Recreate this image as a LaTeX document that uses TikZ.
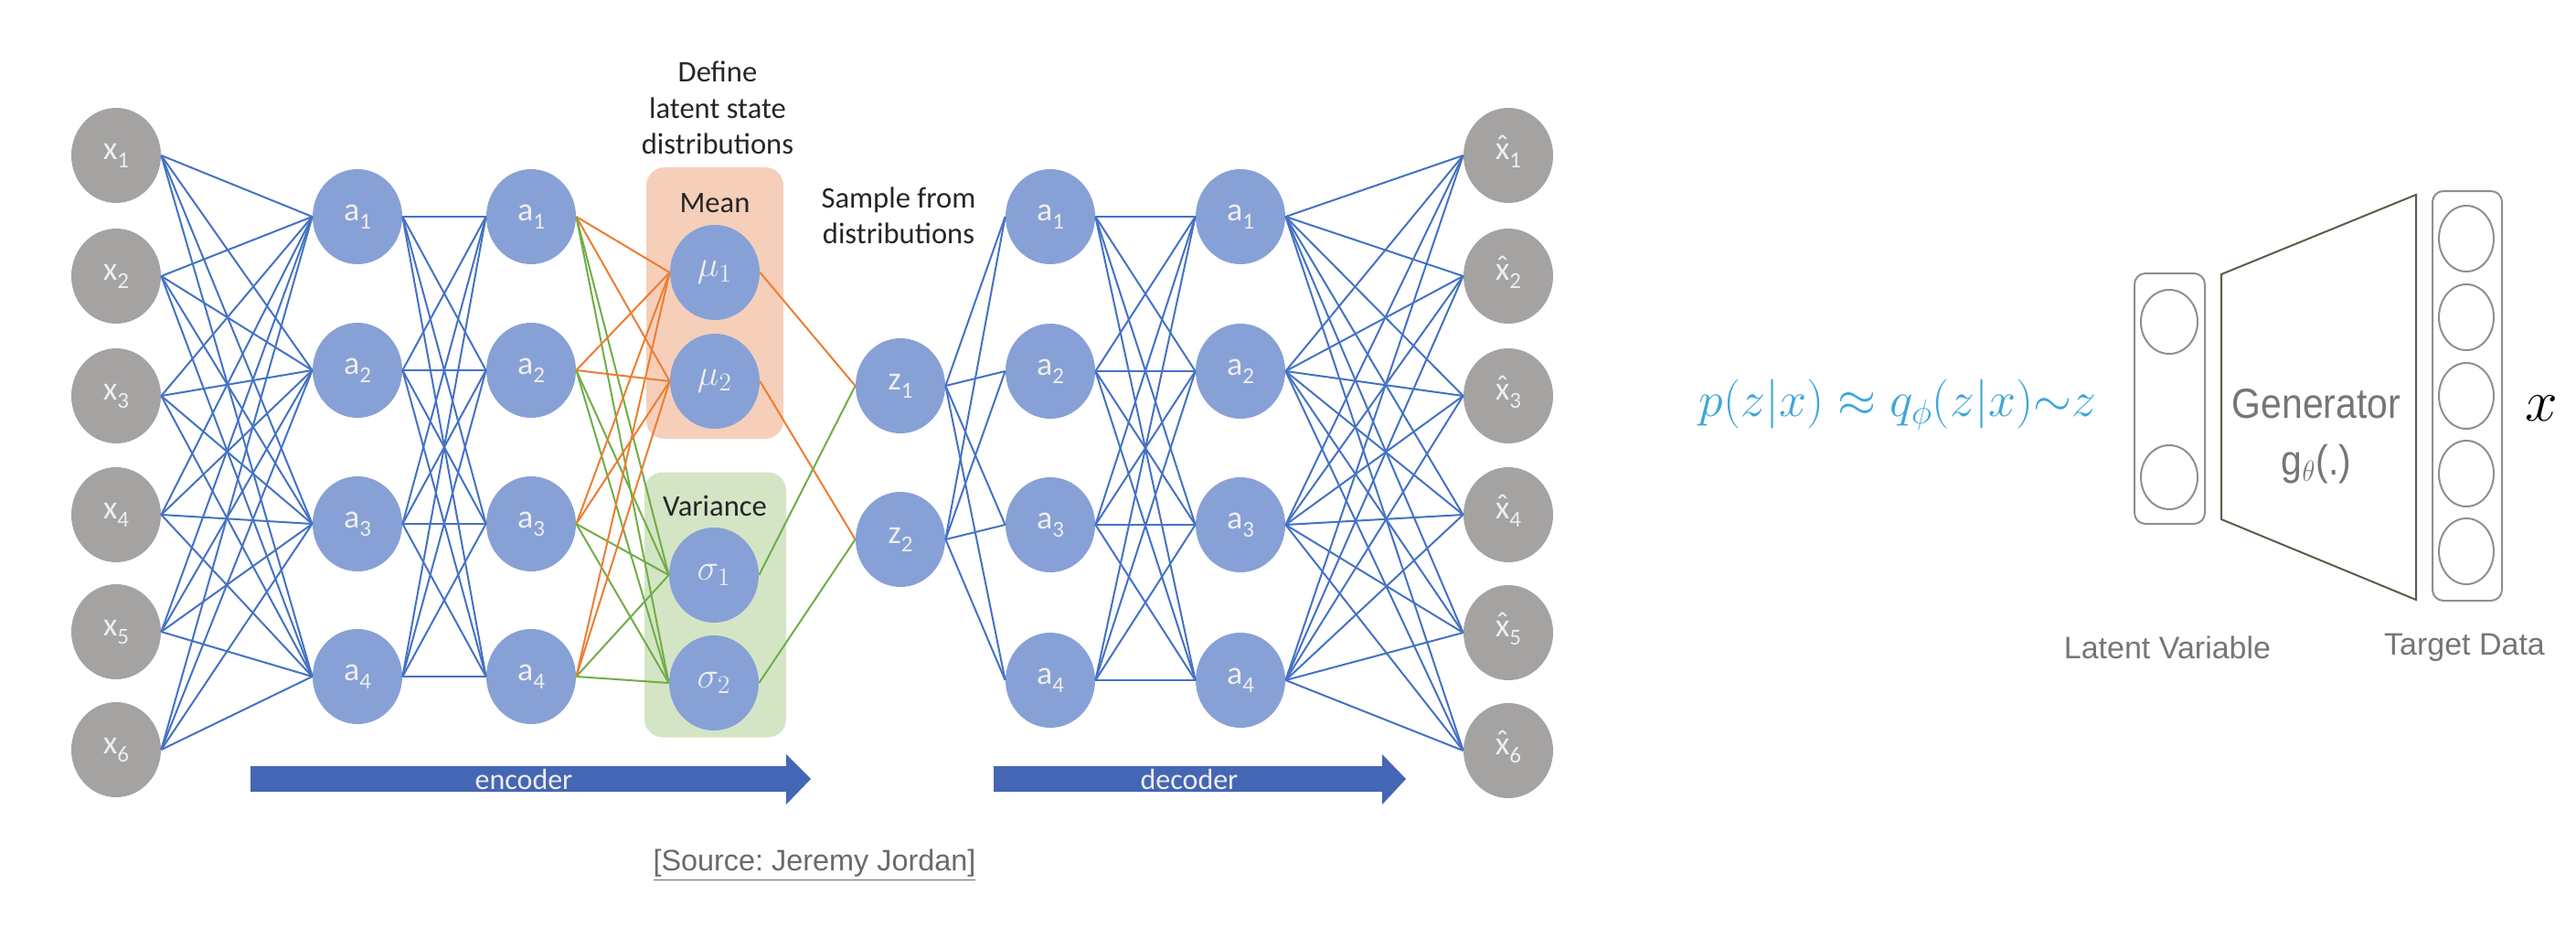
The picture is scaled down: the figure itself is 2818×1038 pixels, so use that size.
\RequirePackage{fix-cm}
\documentclass[tikz,border=0pt]{standalone}
\usepackage[no-math]{fontspec}
\usepackage{graphicx}
\setmainfont{Carlito}
\newfontfamily\libsans{Liberation Sans}
\usetikzlibrary{shapes.geometric}
\frenchspacing
\definecolor{nodegray}{HTML}{A5A2A2}
\definecolor{nodeblue}{HTML}{87A1D6}
\definecolor{edgeblue}{HTML}{4472C4}
\definecolor{edgeorange}{HTML}{ED7D31}
\definecolor{edgegreen}{HTML}{70AD47}
\definecolor{meanfill}{HTML}{F6CFBA}
\definecolor{varfill}{HTML}{D4E5C6}
\definecolor{arrowblue}{HTML}{4466B5}
\definecolor{formulablue}{HTML}{3EA6D8}
\definecolor{outlinegray}{HTML}{8F8F8F}
\definecolor{genline}{HTML}{55604B}
\definecolor{captiongray}{HTML}{767676}
\definecolor{labelwhite}{HTML}{EEEEEE}
\newcommand\sbs[1]{\raisebox{-0.25em}{\fontsize{12.5}{12.5}\selectfont #1}}
\newcommand\hatx{\ooalign{x\cr\hidewidth\raisebox{0.05em}{ˆ}\hidewidth\cr}}
\tikzset{
  neuron/.style={ellipse, minimum width=49pt, minimum height=52pt, inner sep=0pt,
    text=labelwhite, font=\fontsize{18}{18}\selectfont},
  inneuron/.style={neuron, fill=nodegray},
  hidneuron/.style={neuron, fill=nodeblue},
  mathneuron/.style={hidneuron, font=\fontsize{20}{20}\selectfont},
  blline/.style={draw=edgeblue, line width=1pt},
  orline/.style={draw=edgeorange, line width=1pt},
  grline/.style={draw=edgegreen, line width=1pt},
  groupbox/.style={rectangle, rounded corners=10pt, inner sep=0pt},
  toplabel/.style={text=black!85, font=\fontsize{16.3}{19.8}\selectfont, align=center},
  arrowtext/.style={text=labelwhite, font=\fontsize{16}{16}\selectfont},
  unitcol/.style={rectangle, draw=outlinegray, line width=1pt, rounded corners=6pt, inner sep=0pt},
  unitcircle/.style={ellipse, draw=outlinegray, line width=1pt, inner sep=0pt},
  gentext/.style={text=captiongray, font=\libsans\fontsize{23}{26}\selectfont},
  captext/.style={text=captiongray, font=\libsans\fontsize{17}{20}\selectfont},
}
\begin{document}
\begin{tikzpicture}[x=0.5pt,y=-0.5pt]
\useasboundingbox (0,0) rectangle (2818,1038);

% group boxes
\node[groupbox, fill=meanfill, minimum width=75pt, minimum height=148.5pt] (meanbox) at (782,331.5) {};
\node[groupbox, fill=varfill, minimum width=77.5pt, minimum height=145pt] (varbox) at (782.5,661.5) {};
\node[toplabel] (meanlbl) at (782,222) {Mean};
\node[toplabel] (varlbl) at (782,553) {Variance};
\node[toplabel] (definelbl) at (785,118) {Define\\latent state\\distributions};
\node[toplabel] (samplelbl) at (983,236) {Sample from\\distributions};

% input layer
\foreach \i/\y in {1/170,2/302,3/433,4/563,5/691,6/820}
  \node[inneuron] (x\i) at (127,\y) {x\sbs{\i}};
% encoder hidden layers
\foreach \i/\y in {1/237,2/405,3/573,4/740} {
  \node[hidneuron] (ea\i) at (391,\y) {a\sbs{\i}};
  \node[hidneuron] (eb\i) at (581,\y) {a\sbs{\i}};
}
% latent distributions
\node[mathneuron] (mu1) at (782,298) {$\mu_1$};
\node[mathneuron] (mu2) at (782,417) {$\mu_2$};
\node[mathneuron] (sg1) at (781,629) {$\sigma_1$};
\node[mathneuron] (sg2) at (781,747) {$\sigma_2$};
% samples
\node[hidneuron] (z1) at (985,422) {z\sbs{1}};
\node[hidneuron] (z2) at (985,590) {z\sbs{2}};
% decoder hidden layers
\foreach \i/\y in {1/237,2/406,3/574,4/744} {
  \node[hidneuron] (da\i) at (1149,\y) {a\sbs{\i}};
  \node[hidneuron] (db\i) at (1357,\y) {a\sbs{\i}};
}
% output layer
\foreach \i/\y in {1/170,2/302,3/433,4/563,5/692,6/821}
  \node[inneuron] (xh\i) at (1650,\y) {\hatx\sbs{\i}};

% connections
\foreach \i in {1,...,6} \foreach \j in {1,...,4}
  \draw[blline] (x\i.east) -- (ea\j.west);
\foreach \i in {1,...,4} \foreach \j in {1,...,4}
  \draw[blline] (ea\i.east) -- (eb\j.west);
\foreach \i in {1,...,4} {
  \foreach \j in {1,2} {
    \draw[orline] (eb\i.east) -- (mu\j.west);
    \draw[grline] (eb\i.east) -- (sg\j.west);
  }
}
\draw[orline] (mu1.east) -- (z1.west);
\draw[orline] (mu2.east) -- (z2.west);
\draw[grline] (sg1.east) -- (z1.west);
\draw[grline] (sg2.east) -- (z2.west);
\foreach \i in {1,2} \foreach \j in {1,...,4}
  \draw[blline] (z\i.east) -- (da\j.west);
\foreach \i in {1,...,4} \foreach \j in {1,...,4}
  \draw[blline] (da\i.east) -- (db\j.west);
\foreach \i in {1,...,4} \foreach \j in {1,...,6}
  \draw[blline] (db\i.east) -- (xh\j.west);

% encoder / decoder arrows
\fill[arrowblue] (274,838) -- (860,838) -- (860,825) -- (887,852) -- (860,880) -- (860,866) -- (274,866) -- cycle;
\node[arrowtext] (enclbl) at (573,852) {encoder};
\fill[arrowblue] (1087,838) -- (1512,838) -- (1512,825) -- (1538,852) -- (1512,880) -- (1512,866) -- (1087,866) -- cycle;
\node[arrowtext] (declbl) at (1301,852) {decoder};

% source
\node[text=captiongray!90!black, font=\libsans\fontsize{16.2}{18}\selectfont] (source) at (891,946) {\underline{[Source: Jeremy Jordan]}};

% right-hand generator sketch
\node[text=formulablue, font=\fontsize{27}{30}\selectfont] (formula) at (2076,443) {$p(z|x)\approx q_{\phi}(z|x){\sim}z$};
\node[unitcol, minimum width=38.5pt, minimum height=137pt] (latentcol) at (2373.5,436) {};
\node[unitcircle, minimum width=31pt, minimum height=35pt] (lc1) at (2373,352) {};
\node[unitcircle, minimum width=31pt, minimum height=35pt] (lc2) at (2373,522) {};
\draw[genline, line width=1pt] (2430,300) -- (2643,213) -- (2643,656) -- (2430,568) -- cycle;
\node[gentext] (gen) at (2534,442) {\scalebox{0.89}[1]{Generator}};
\node[gentext] (gfun) at (2534,508) {\scalebox{0.89}[1]{g$_\theta$(.)}};
\node[unitcol, minimum width=38pt, minimum height=224pt] (targetcol) at (2699,433) {};
\foreach \i/\y in {1/261,2/347,3/433,4/518,5/603}
  \node[unitcircle, minimum width=30pt, minimum height=36pt] (tc\i) at (2698,\y) {};
\node[font=\fontsize{32}{36}\selectfont] (xdata) at (2780,447) {$x$};
\node[captext] (latentlbl) at (2371,708) {Latent Variable};
\node[captext] (targetlbl) at (2696,708) {Target Data};
\end{tikzpicture}
\end{document}
